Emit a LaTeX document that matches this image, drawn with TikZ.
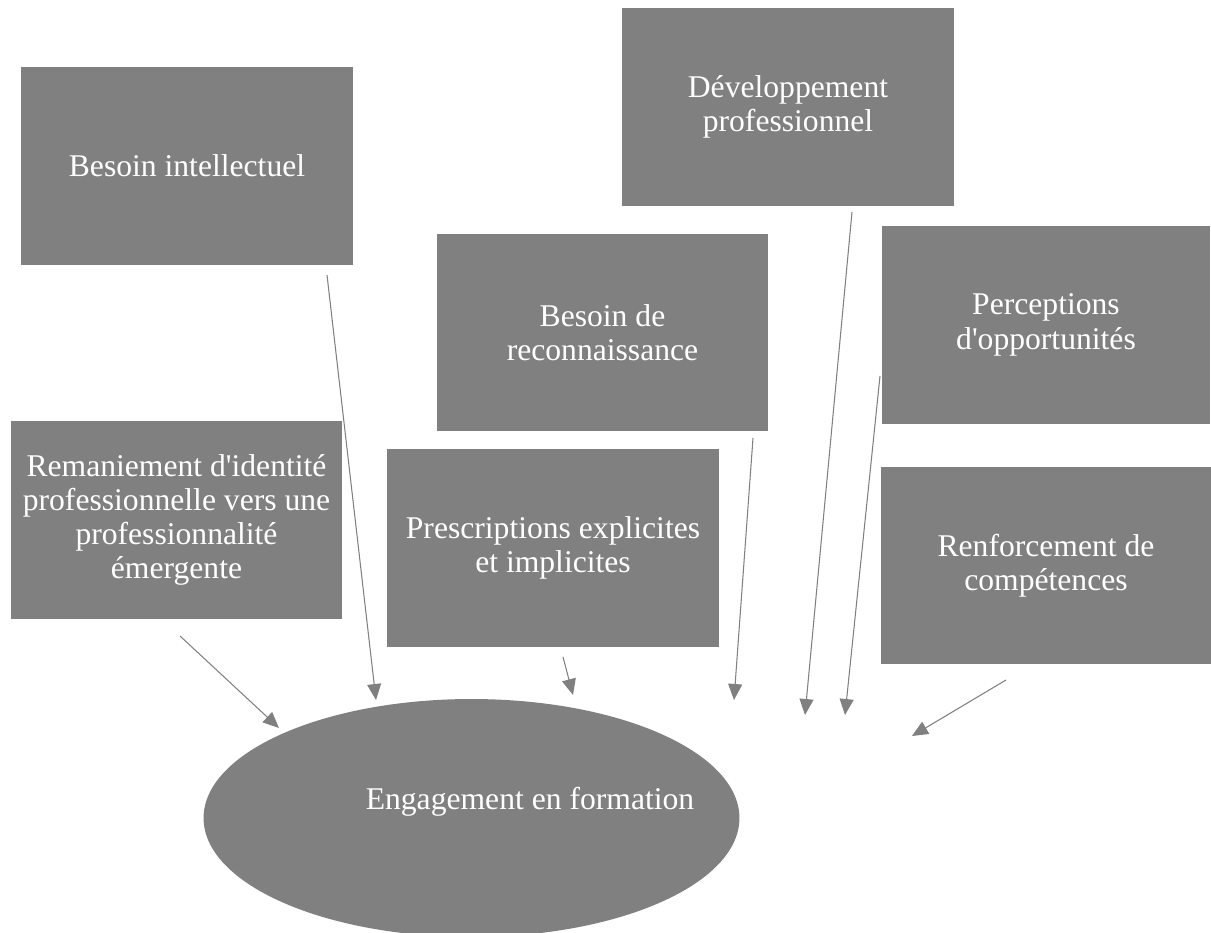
\documentclass[tikz,border=0pt]{standalone}
\usepackage{fontspec}
\setmainfont{Liberation Serif}
\usetikzlibrary{arrows.meta}
\usetikzlibrary{shapes.geometric}

\tikzset{
  facteur/.style={fill=gray, text=white, inner sep=0pt, align=center,
    minimum width=6.64cm, minimum height=3.96cm, font=\fontsize{18}{19.5}\selectfont},
  fleche/.style={gray, line width=0.6pt, -{Triangle[length=0.32cm, width=0.28cm]}}
}

\begin{document}
\begin{tikzpicture}[x=0.02cm, y=-0.02cm]
    \useasboundingbox (0,0) rectangle (1211,933);
    % the seven factors
    \node [facteur] (intellectuel) at (187,166) {Besoin intellectuel};
    \node [facteur] (developpement) at (788,107) {Développement\\professionnel};
    \node [facteur] (reconnaissance) at (602.5,332.5) {Besoin de\\reconnaissance};
    \node [facteur, minimum width=6.58cm] (perceptions) at (1046,325) {Perceptions\\d\textquotesingle opportunités};
    \node [facteur] (remaniement) at (176.5,520) {Remaniement d\textquotesingle identité\\professionnelle vers une\\professionnalité\\émergente};
    \node [facteur] (prescriptions) at (553,548) {Prescriptions explicites\\et implicites};
    \node [facteur, minimum width=6.6cm] (renforcement) at (1046,565.5) {Renforcement de\\compétences};
    % the ellipse
    \node [ellipse, fill=gray, inner sep=0pt, minimum width=10.72cm, minimum height=4.76cm] (engagement) at (471.5,818) {};
    \node [text=white, font=\fontsize{18}{19.5}\selectfont] (engagementtexte) at (530,802) {Engagement en formation};
    % free ends of the arrows
    \coordinate (a1) at (180,636);  \coordinate (b1) at (279,728);
    \coordinate (a2) at (327,275);  \coordinate (b2) at (376,700);
    \coordinate (a3) at (563,657);  \coordinate (b3) at (573,695);
    \coordinate (a4) at (753,438);  \coordinate (b4) at (734,700);
    \coordinate (a5) at (852,212);  \coordinate (b5) at (805,715);
    \coordinate (a6) at (880,376);  \coordinate (b6) at (845,715);
    \coordinate (a7) at (1006,680); \coordinate (b7) at (912,736);
    \foreach \i in {1,...,7}
        \draw [fleche] (a\i) -- (b\i);
\end{tikzpicture}
\end{document}
